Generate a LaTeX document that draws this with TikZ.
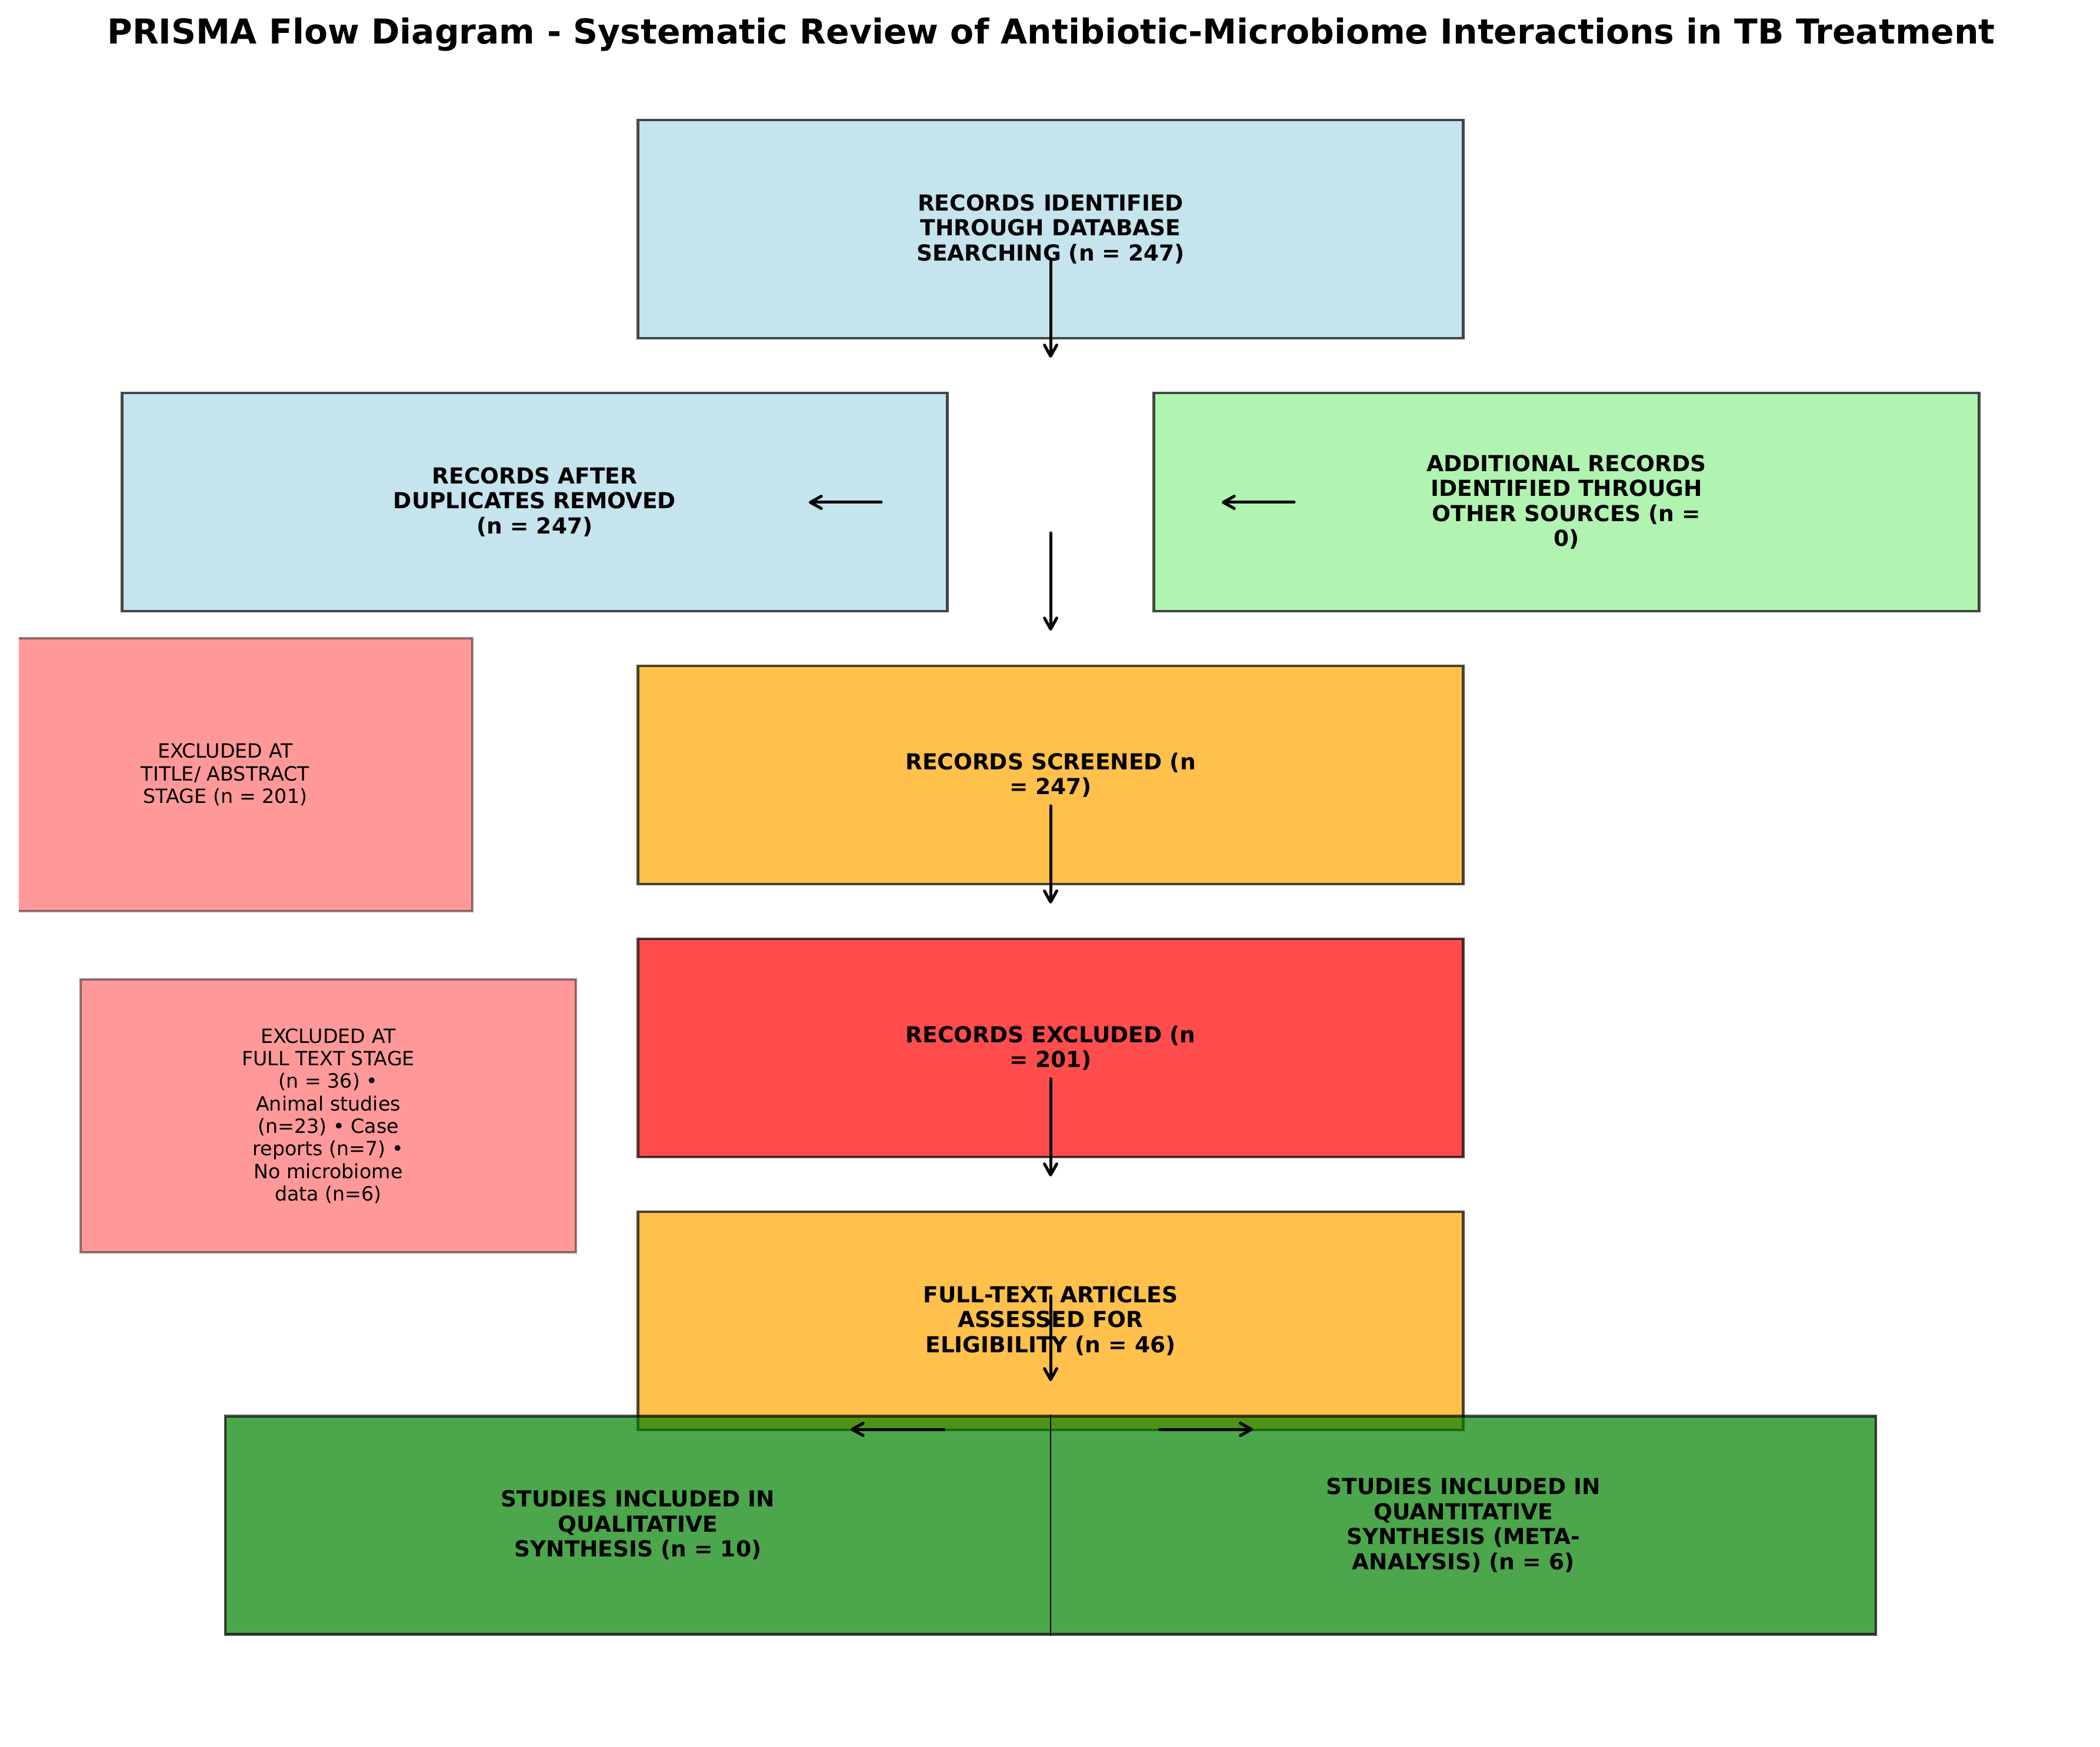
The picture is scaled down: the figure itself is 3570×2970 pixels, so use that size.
\documentclass[tikz,border=0pt]{standalone}
\usepackage{fontspec}
\setmainfont{DejaVu Sans}
\usetikzlibrary{arrows.meta}
\definecolor{cblue}{HTML}{ADD8E6}
\definecolor{cgreen}{HTML}{90EE90}
\definecolor{corange}{HTML}{FFA500}
\definecolor{cred}{HTML}{FF0000}
\definecolor{cdgreen}{HTML}{008000}
\begin{document}
\begin{tikzpicture}[x=0.24pt,y=-0.24pt,
  box/.style={draw=black, draw opacity=0.7, fill opacity=0.7, text opacity=1, line width=1pt, inner sep=0pt, minimum width=336.72pt, minimum height=89.04pt, align=center, font=\fontsize{9}{10.2}\selectfont\bfseries},
  lbl/.style={align=center, inner sep=0pt, font=\fontsize{9}{10.2}\selectfont\bfseries},
  lblsmall/.style={align=center, inner sep=0pt, font=\fontsize{8}{9.2}\selectfont},
  exedge/.style={draw=black, draw opacity=0.45, line width=1pt},
  flow/.style={line width=1.2pt, line cap=round, -{Straight Barb[length=4.5pt,width=5pt,round]}},
]
\useasboundingbox (0,0) rectangle (3570,2970);

\node[font=\fontsize{14}{16}\selectfont\bfseries, anchor=base, inner sep=0pt] (title) at (1787,75) {PRISMA Flow Diagram - Systematic Review of Antibiotic-Microbiome Interactions in TB Treatment};

\node[box, fill=cblue] (ident) at (1786,389.5) {RECORDS IDENTIFIED\\THROUGH DATABASE\\SEARCHING (n = 247)};
\node[box, fill=cblue] (dup) at (909,853.5) {RECORDS AFTER\\DUPLICATES REMOVED\\(n = 247)};
\node[box, fill=cgreen] (add) at (2663,853.5) {ADDITIONAL RECORDS\\IDENTIFIED THROUGH\\OTHER SOURCES (n =\\0)};
\node[box, fill=corange] (screen) at (1786,1317.5) {RECORDS SCREENED (n\\= 247)};

% excluded at title/abstract (clipped at the left)
\fill[cred, fill opacity=0.4] (32,1085) rectangle (803,1549);
\draw[exedge] (32,1085) -- (803,1085) -- (803,1549) -- (32,1549);
\node[lblsmall] (excl1) at (383,1317) {EXCLUDED AT\\TITLE/ ABSTRACT\\STAGE (n = 201)};

\node[box, fill=cred] (rexcl) at (1786,1781.5) {RECORDS EXCLUDED (n\\= 201)};

\node[box, fill=cred, fill opacity=0.4, draw opacity=0.45, minimum width=202.1pt, minimum height=111.4pt, font=\fontsize{8}{9.2}\selectfont] (excl2) at (558,1897) {EXCLUDED AT\\FULL TEXT STAGE\\(n = 36) •\\Animal studies\\(n=23) • Case\\reports (n=7) •\\No microbiome\\data (n=6)};

\node[box, fill=corange] (full) at (1786,2245.5) {FULL-TEXT ARTICLES\\ASSESSED FOR\\ELIGIBILITY (n = 46)};

\node[box, fill=cdgreen, minimum width=673.44pt] (incl) at (1786,2593) {};
\draw[line width=0.6pt] (incl.north) -- (incl.south);
\node[lbl] (qual) at (1084.4,2593) {STUDIES INCLUDED IN\\QUALITATIVE\\SYNTHESIS (n = 10)};
\node[lbl] (quant) at (2487.6,2593) {STUDIES INCLUDED IN\\QUANTITATIVE\\SYNTHESIS (META-\\ANALYSIS) (n = 6)};

% arrow end points
\coordinate (a1s) at (1786,442);  \coordinate (a1e) at (1786,608);
\coordinate (a2s) at (1498,854);  \coordinate (a2e) at (1375,854);
\coordinate (a3s) at (2200,854);  \coordinate (a3e) at (2077,854);
\coordinate (a4s) at (1786,906);  \coordinate (a4e) at (1786,1072);
\coordinate (a5s) at (1786,1370); \coordinate (a5e) at (1786,1536);
\coordinate (a6s) at (1786,1834); \coordinate (a6e) at (1786,2000);
\coordinate (a7s) at (1786,2203); \coordinate (a7e) at (1786,2348);
\coordinate (a8s) at (1605,2430); \coordinate (a8e) at (1446,2430);
\coordinate (a9s) at (1971,2430); \coordinate (a9e) at (2130,2430);

\draw[flow] (a1s) -- (a1e);
\draw[flow] (a2s) -- (a2e);
\draw[flow] (a3s) -- (a3e);
\draw[flow] (a4s) -- (a4e);
\draw[flow] (a5s) -- (a5e);
\draw[flow] (a6s) -- (a6e);
\draw[flow] (a7s) -- (a7e);
\draw[flow] (a8s) -- (a8e);
\draw[flow] (a9s) -- (a9e);
\end{tikzpicture}
\end{document}
